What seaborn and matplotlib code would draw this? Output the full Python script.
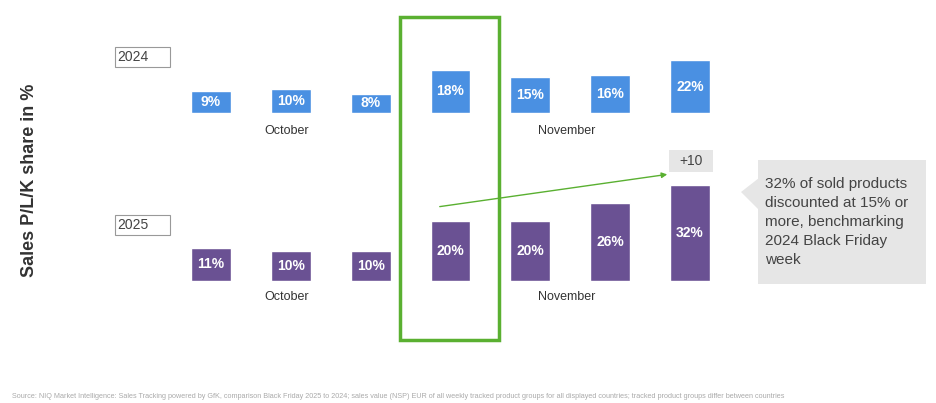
import matplotlib
matplotlib.use("Agg")
import matplotlib.pyplot as plt
import seaborn as sns
import pandas as pd
from matplotlib.patches import Rectangle, Polygon, FancyArrowPatch

weeks = ["W1", "W2", "W3", "W4", "W5", "W6", "W7"]
share_2024 = [9, 10, 8, 18, 15, 16, 22]
share_2025 = [11, 10, 10, 20, 20, 26, 32]
years = ["2024", "2025"]
months = ["October", "November"]
delta_label = "+10"
callout = "32% of sold products\ndiscounted at 15% or\nmore, benchmarking\n2024 Black Friday\nweek"
source = ("Source: NIQ Market Intelligence: Sales Tracking powered by GfK, comparison Black Friday 2025 to 2024; "
          "sales value (NSP) EUR of all weekly tracked product groups for all displayed countries; "
          "tracked product groups differ between countries")

sns.set_theme(style="white")
plt.rcParams['font.family'] = ['Liberation Sans', 'DejaVu Sans']

W, H = 936, 403
fig = plt.figure(figsize=(W / 100, H / 100), dpi=100)

def fx(px): return px / W
def fy(py): return 1 - py / H

x0, x1 = 171, 730
# top axes: baseline 113, 2.4 px per %
ax1 = fig.add_axes([fx(x0), fy(113), fx(x1 - x0), 60 / H])
ax2 = fig.add_axes([fx(x0), fy(281), fx(x1 - x0), 105 / H])
for ax, vals, col, ymax in [(ax1, share_2024, "#4a90e2", 25), (ax2, share_2025, "#6a5193", 35)]:
    df = pd.DataFrame({"week": weeks, "share": vals})
    sns.barplot(data=df, x="week", y="share", color=col, saturation=1, width=0.5, ax=ax)
    ax.set_xlim(-0.5, 6.5)
    ax.set_ylim(0, ymax)
    ax.axis("off")
    for i, v in enumerate(vals):
        ax.text(i, v / 2, f"{v}%", ha="center", va="center", color="white", fontsize=10, fontweight="bold")

# month labels
for py in (131, 297):
    fig.text(fx(287), fy(py), months[0], ha="center", va="center", fontsize=9, color="#333333")
    fig.text(fx(567), fy(py), months[1], ha="center", va="center", fontsize=9, color="#333333")

# year boxes
for py, yr in [(47, years[0]), (215, years[1])]:
    fig.patches.append(Rectangle((fx(115), fy(py + 20)), fx(55), 20 / H, transform=fig.transFigure,
                                 facecolor="white", edgecolor="#999999", lw=0.8))
    fig.text(fx(133), fy(py + 10), yr, ha="center", va="center", fontsize=10, color="#444444")

# green highlight
fig.patches.append(Rectangle((fx(400), fy(340)), fx(99), 323 / H, transform=fig.transFigure,
                             facecolor="none", edgecolor="#5ab031", lw=2.5))
fig.patches.append(FancyArrowPatch((fx(437), fy(207)), (fx(670), fy(174)), transform=fig.transFigure,
                                   arrowstyle="-|>", mutation_scale=8, color="#5ab031", lw=1))

# +10 box
fig.patches.append(Rectangle((fx(669), fy(172)), fx(44), 22 / H, transform=fig.transFigure,
                             facecolor="#e6e6e6", edgecolor="none"))
fig.text(fx(691), fy(161), delta_label, ha="center", va="center", fontsize=10, color="#444444")

# callout
fig.patches.append(Rectangle((fx(758), fy(284)), fx(168), 124 / H, transform=fig.transFigure,
                             facecolor="#e6e6e6", edgecolor="none"))
fig.patches.append(Polygon([(fx(759), fy(178)), (fx(741), fy(192)), (fx(759), fy(210))], closed=True,
                           transform=fig.transFigure, facecolor="#e6e6e6", edgecolor="none"))
fig.text(fx(765), fy(222), callout, ha="left", va="center", fontsize=11, color="#444444", linespacing=1.45)

fig.text(fx(30), fy(180), "Sales P/L/K share in %", rotation=90, ha="center", va="center",
         fontsize=13, fontweight="bold", color="#333333")
fig.text(fx(12), fy(396), source, ha="left", va="center", fontsize=5.2, color="#aaaaaa")

fig.savefig("out.png", dpi=100)
